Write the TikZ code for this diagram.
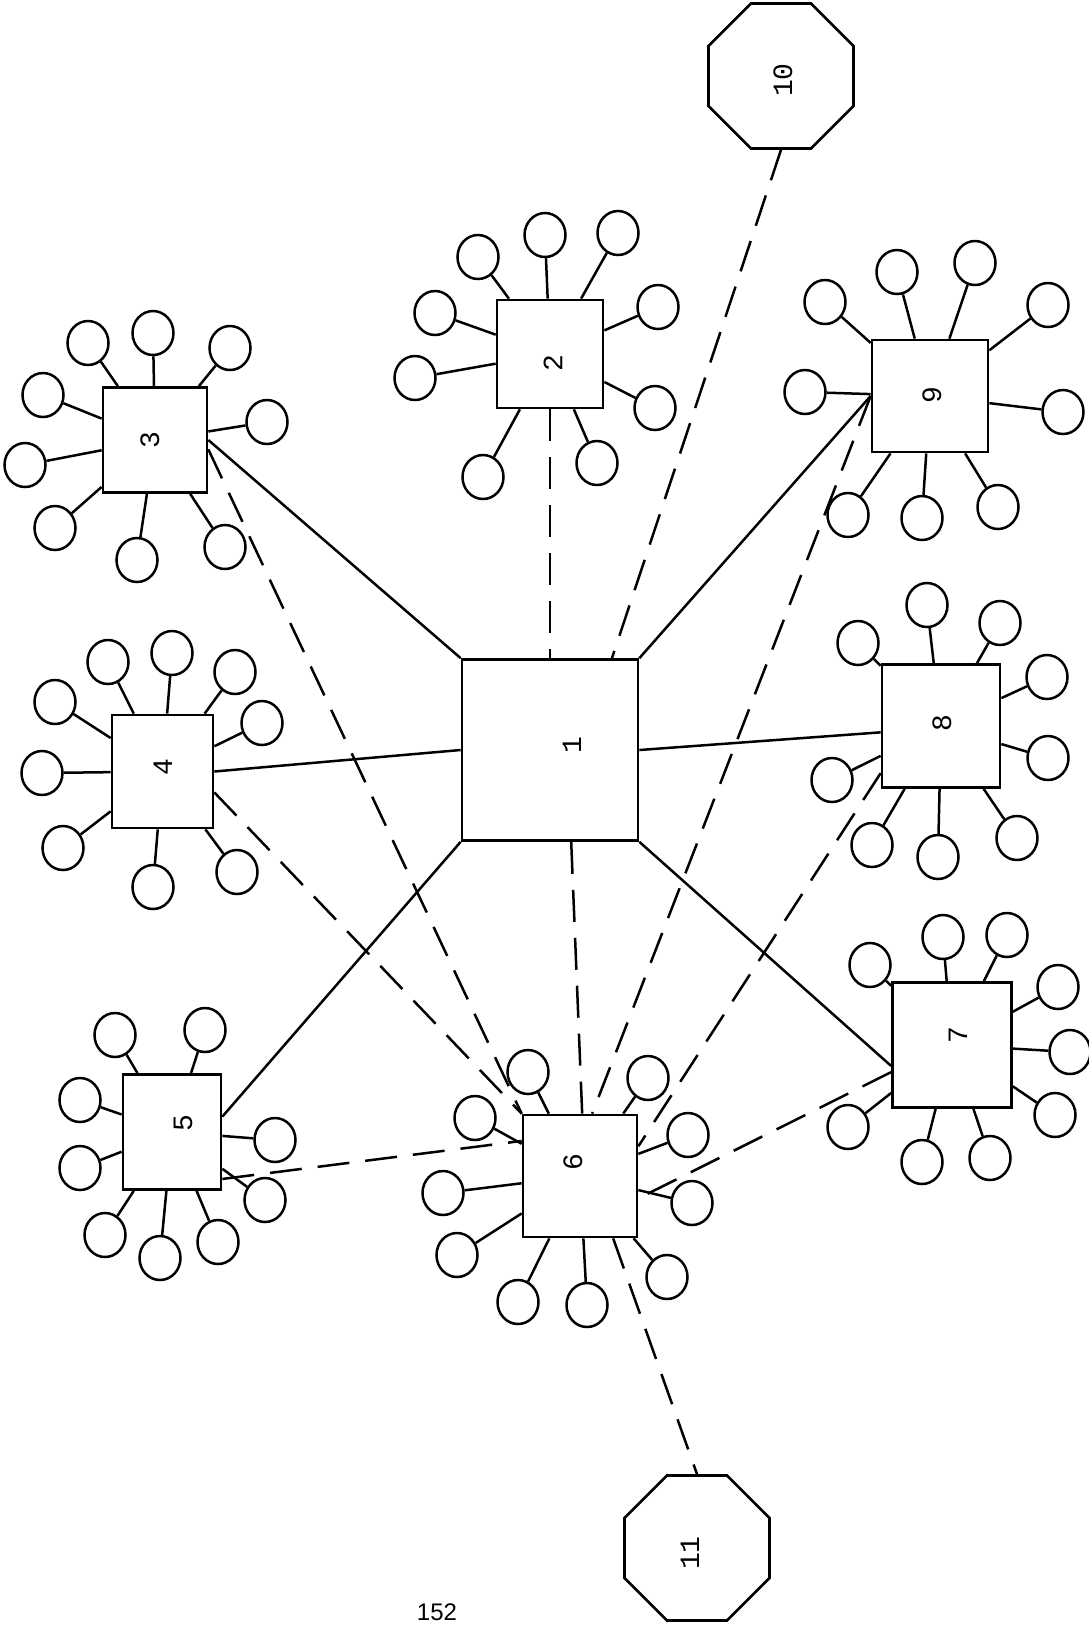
\documentclass[tikz,border=0pt]{standalone}
\usepackage{fontspec}
\newfontfamily\labfont{Liberation Mono}
\newfontfamily\pgfont{Liberation Sans}
\usetikzlibrary{shapes.geometric}
\begin{document}
\begin{tikzpicture}[x=1pt,y=-1pt,line width=2.5pt,
  box/.style={draw,rectangle,inner sep=0pt,line width=2.7pt},
  oct/.style={draw,regular polygon,regular polygon sides=8,minimum size=157pt,inner sep=0pt,line width=2.7pt},
  leafnode/.style={draw,ellipse,minimum width=41pt,minimum height=44pt,inner sep=0pt},
  lab/.style={font=\labfont\fontsize{28}{28}\selectfont,rotate=90,inner sep=0pt},
  dsh/.style={dash pattern=on 32pt off 16pt}]
\useasboundingbox (0,0) rectangle (1089,1626);
% boxes
\node[box,minimum width=176pt,minimum height=181pt] (b1) at (550,750) {};
\node[box,minimum width=106pt,minimum height=108pt] (b2) at (550,354) {};
\node[box,minimum width=104pt,minimum height=105pt] (b3) at (155,440) {};
\node[box,minimum width=101pt,minimum height=113pt] (b4) at (162.5,771.5) {};
\node[box,minimum width=98pt,minimum height=115pt] (b5) at (172,1132) {};
\node[box,minimum width=114pt,minimum height=122pt] (b6) at (580,1176) {};
\node[box,minimum width=119pt,minimum height=125pt] (b7) at (952,1045) {};
\node[box,minimum width=118pt,minimum height=123pt] (b8) at (941,726) {};
\node[box,minimum width=116pt,minimum height=112pt] (b9) at (930,396) {};
\node[oct] (o10) at (781,76) {};
\node[oct] (o11) at (697,1548) {};
% labels
\node[lab] (t1) at (572,745) {1};
\node[lab] (t2) at (553,363) {2};
\node[lab] (t3) at (150,440) {3};
\node[lab] (t4) at (163,767) {4};
\node[lab] (t5) at (183,1123) {5};
\node[lab] (t6) at (573,1162) {6};
\node[lab] (t7) at (958,1035) {7};
\node[lab] (t8) at (942,723) {8};
\node[lab] (t9) at (932,395) {9};
\node[lab] (t10) at (783,80) {10};
\node[lab] (t11) at (690,1553) {11};
\node[font=\pgfont\fontsize{24}{24}\selectfont,inner sep=0pt] (pg) at (437,1612) {152};
% solid links
\draw (b1.north west) -- (b3.east);
\draw (b1.west) -- (b4.east);
\draw (b1.south west) -- (b5.17);
\draw (b1.south east) -- (b7.199);
\draw (b1.east) -- (b8.186);
\draw (b1.north east) -- (b9.west);
% dashed links
\draw[dsh] (b2.south) -- (b1.north);
\draw[dsh] (o10.south) -- (b1.56);
\draw[dsh] (b3.-10) -- (b6.north west);
\draw[dsh] (b4.-22) -- (b6.north west);
\draw[dsh] (b5.-43) -- (b6.149);
\draw[dsh] (b1.-77) -- (b6.88);
\draw[dsh] (b9.west) -- (b6.79);
\draw[dsh] (b8.218) -- (b6.27);
\draw[dsh] (b7.204) -- (b6.-21);
\draw[dsh] (b6.-62) -- (o11.north);
% leaves
\foreach \p [count=\i] in {(478,257),(545,235),(618,233),(658,307),(435,313),(415,378),(655,408),(483,477),(597,463)}
  {\node[leafnode] (l2\i) at \p {}; \draw (l2\i) -- (b2);}
\foreach \p [count=\i] in {(88,343),(153,333),(230,348),(267,422),(43,395),(25,465),(55,528),(137,560),(225,547)}
  {\node[leafnode] (l3\i) at \p {}; \draw (l3\i) -- (b3);}
\foreach \p [count=\i] in {(108,662),(172,653),(235,672),(262,723),(55,702),(42,773),(63,848),(153,887),(237,872)}
  {\node[leafnode] (l4\i) at \p {}; \draw (l4\i) -- (b4);}
\foreach \p [count=\i] in {(115,1035),(205,1030),(80,1100),(275,1140),(80,1168),(265,1200),(105,1235),(160,1258),(218,1242)}
  {\node[leafnode] (l5\i) at \p {}; \draw (l5\i) -- (b5);}
\foreach \p [count=\i] in {(528,1072),(475,1118),(648,1078),(688,1135),(443,1193),(692,1203),(457,1255),(667,1277),(518,1302),(587,1305)}
  {\node[leafnode] (l6\i) at \p {}; \draw (l6\i) -- (b6);}
\foreach \p [count=\i] in {(870,965),(943,937),(1007,935),(1058,987),(1070,1052),(1055,1115),(990,1158),(922,1162),(848,1127)}
  {\node[leafnode] (l7\i) at \p {}; \draw (l7\i) -- (b7);}
\foreach \p [count=\i] in {(858,643),(927,605),(1000,623),(1047,677),(1048,758),(1017,838),(938,857),(872,845),(832,780)}
  {\node[leafnode] (l8\i) at \p {}; \draw (l8\i) -- (b8);}
\foreach \p [count=\i] in {(825,302),(897,272),(975,263),(1048,305),(805,392),(1063,412),(848,515),(922,518),(998,507)}
  {\node[leafnode] (l9\i) at \p {}; \draw (l9\i) -- (b9);}
\end{tikzpicture}
\end{document}
